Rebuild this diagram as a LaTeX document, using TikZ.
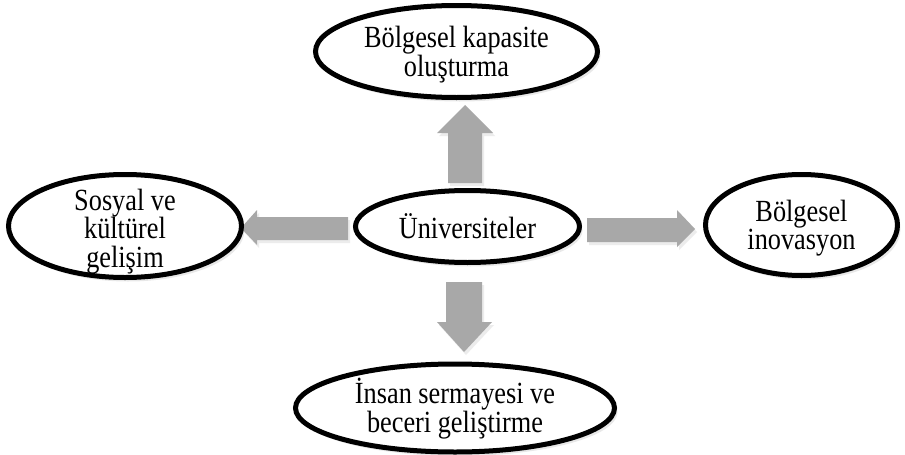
\documentclass[tikz,border=0pt]{standalone}
\usepackage{fontspec}
\setmainfont{Liberation Serif}
\usetikzlibrary{shapes.geometric,shadows}
\definecolor{arrowgray}{RGB}{168,168,168}
\newcommand{\bubbletext}[1]{\scalebox{1}[1.17]{\begin{tabular}{@{}c@{}}#1\end{tabular}}}
\begin{document}
\begin{tikzpicture}[x=1pt,y=-1pt,
  bubble/.style={ellipse, draw=black, line width=5pt, fill=white, inner sep=0pt,
    drop shadow={shadow xshift=3pt, shadow yshift=-4pt, opacity=0.18}},
  bubblelabel/.style={inner sep=0pt, align=center, font=\fontsize{26.3}{21.5}\selectfont},
  blockarrow/.style={fill=arrowgray,
    drop shadow={shadow xshift=2pt, shadow yshift=-3pt, opacity=0.15}}]
\useasboundingbox (0,0) rectangle (905,455);
\fill[white] (0,0) rectangle (905,455);

% arrows
\fill[blockarrow] (448,183) -- (448,133) -- (437,133) -- (465,105) -- (493,133) -- (482,133) -- (482,183) -- cycle;
\fill[blockarrow] (446,282) -- (446,322) -- (437,322) -- (464,352) -- (492,322) -- (482,322) -- (482,282) -- cycle;
\fill[blockarrow] (348,217) -- (257,217) -- (257,210) -- (241,228) -- (257,245) -- (257,240) -- (348,240) -- cycle;
\fill[blockarrow] (587,218) -- (677,218) -- (677,210) -- (695,229) -- (677,247) -- (677,242) -- (587,242) -- cycle;

% ellipses
\node[bubble, minimum width=282pt, minimum height=92pt] (top) at (456.5,51.5) {};
\node[bubble, minimum width=224pt, minimum height=72pt] (uni) at (467.5,226.5) {};
\node[bubble, minimum width=233pt, minimum height=103pt] (left) at (125,226) {};
\node[bubble, minimum width=192pt, minimum height=101pt] (right) at (801.5,225) {};
\node[bubble, minimum width=319pt, minimum height=88pt] (bottom) at (455,408) {};

% texts
\node[bubblelabel] (toptext) at ([yshift=-4pt]top.center) {\bubbletext{Bölgesel kapasite\\oluşturma}};
\node[bubblelabel] (unitext) at ([yshift=-3pt]uni.center) {\bubbletext{Üniversiteler}};
\node[bubblelabel] (lefttext) at ([yshift=-6pt]left.center) {\bubbletext{Sosyal ve\\kültürel\\gelişim}};
\node[bubblelabel] (righttext) at ([yshift=-4pt]right.center) {\bubbletext{Bölgesel\\inovasyon}};
\node[bubblelabel] (bottomtext) at ([yshift=-1pt]bottom.center) {\bubbletext{İnsan sermayesi ve\\beceri geliştirme}};
\end{tikzpicture}
\end{document}
